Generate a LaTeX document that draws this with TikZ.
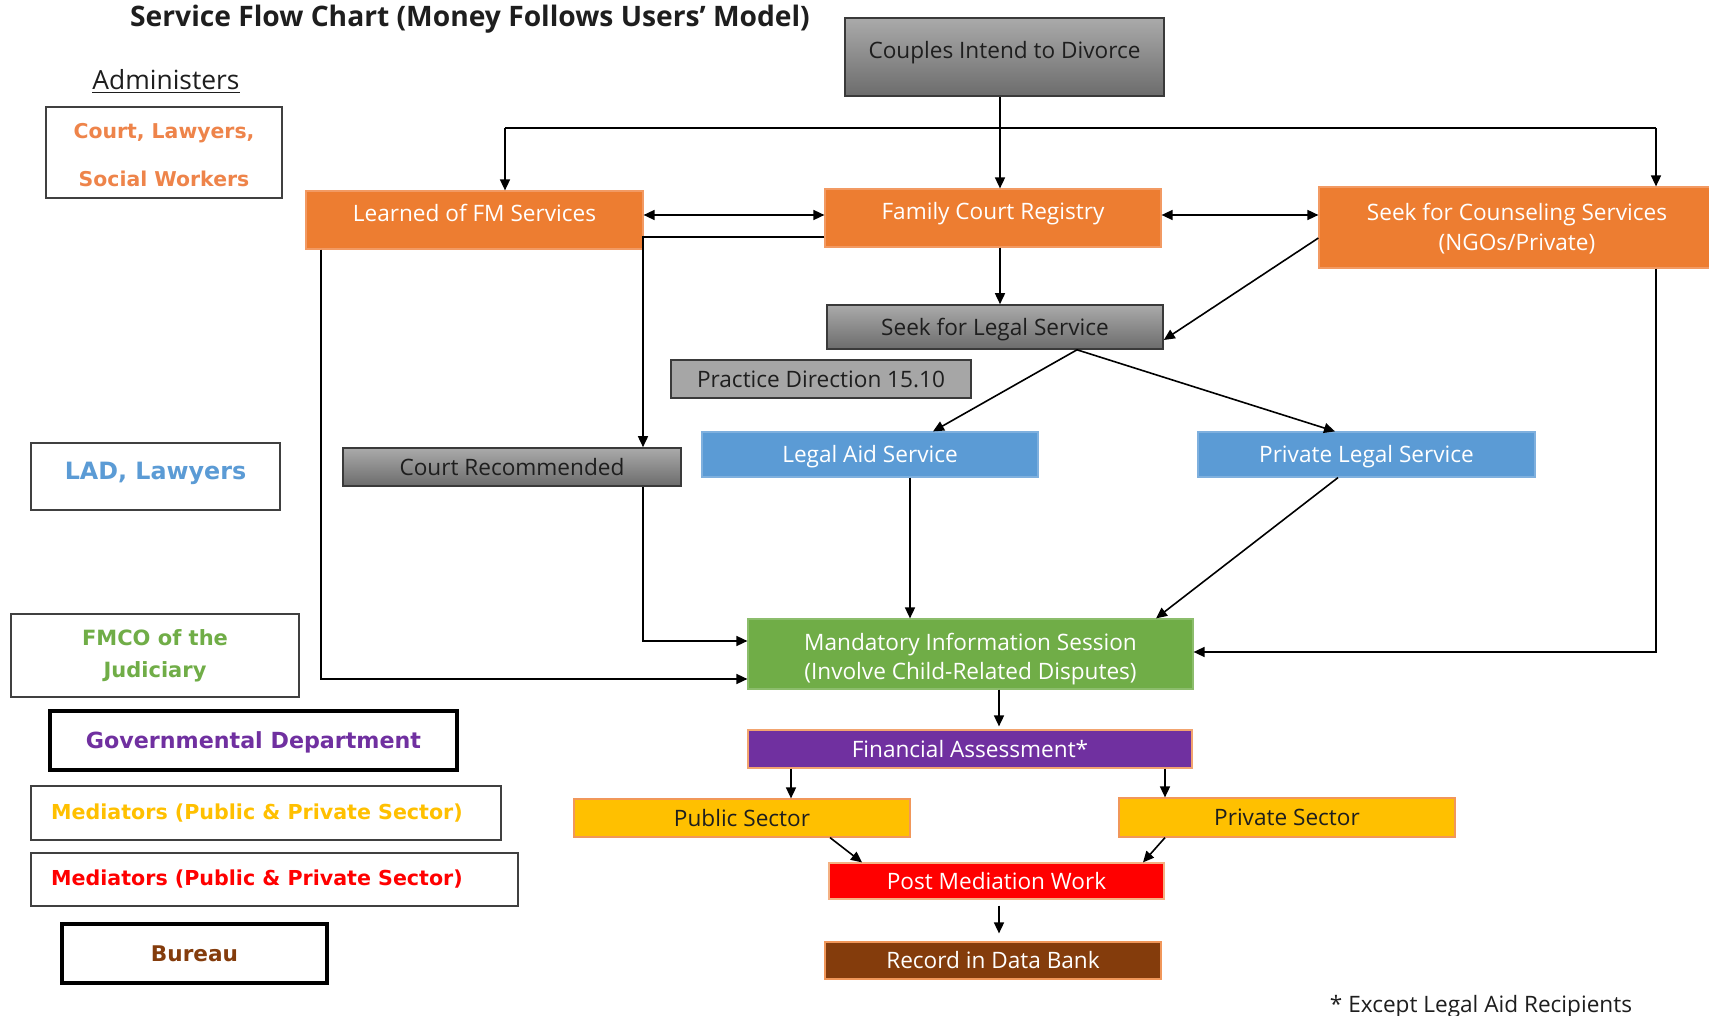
\documentclass[tikz,border=0pt]{standalone}
\usepackage{fontspec}
\setmainfont{Open Sans}
\newfontfamily\legfont{DejaVu Sans}
\usetikzlibrary{arrows.meta}

\definecolor{cOrange}{HTML}{ED7D31}
\definecolor{cOrangeEdge}{HTML}{F29A63}
\definecolor{cBlue}{HTML}{5B9BD5}
\definecolor{cBlueEdge}{HTML}{7FB0DE}
\definecolor{cGreen}{HTML}{70AD47}
\definecolor{cGreenEdge}{HTML}{8CBD6C}
\definecolor{cPurple}{HTML}{7030A0}
\definecolor{cYellow}{HTML}{FFC000}
\definecolor{cRed}{HTML}{FF0000}
\definecolor{cBrown}{HTML}{843C0C}
\definecolor{cLegOrange}{HTML}{EE844A}
\definecolor{gTop}{HTML}{AAAAAA}
\definecolor{gBot}{HTML}{6C6C6C}
\definecolor{gFlat}{HTML}{A6A6A6}
\definecolor{edge}{HTML}{3A3A3A}
\definecolor{legEdge}{HTML}{404040}
\definecolor{ink}{HTML}{1E1E1E}

\begin{document}
\begin{tikzpicture}[x=0.5pt,y=-0.5pt,
  link/.style={draw=black, line width=0.8pt},
  arr/.style={link, -{Triangle[length=5.5pt,width=5pt]}},
  dbl/.style={link, {Triangle[length=5.5pt,width=5pt]}-{Triangle[length=5.5pt,width=5pt]}},
  box/.style={rectangle, inner sep=0pt, align=center, font=\fontsize{11.3}{15}\selectfont},
  one/.style={text height=8.1pt, text depth=0pt},
  high/.style={text height=8.1pt, text depth=7pt},
  orangebox/.style={box, fill=cOrange, draw=cOrangeEdge, line width=0.6pt, text=white},
  greybox/.style={box, top color=gTop, bottom color=gBot, draw=edge, line width=0.8pt, text=ink},
  flatgrey/.style={box, fill=gFlat, draw=edge, line width=0.8pt, text=ink},
  bluebox/.style={box, fill=cBlue, draw=cBlueEdge, line width=0.6pt, text=white},
  greenbox/.style={box, fill=cGreen, draw=cGreenEdge, line width=0.6pt, text=white},
  purplebox/.style={box, fill=cPurple, draw=cOrange!70, line width=0.6pt, text=white},
  yellowbox/.style={box, fill=cYellow, draw=cOrange!80, line width=0.6pt, text=ink},
  redbox/.style={box, fill=cRed, draw=cOrange!60, line width=0.6pt, text=white},
  brownbox/.style={box, fill=cBrown, draw=cOrange!80, line width=0.6pt, text=white},
  legbox/.style={rectangle, inner sep=0pt, align=center, draw=legEdge, line width=0.9pt},
  legthick/.style={legbox, draw=black, line width=2pt},
  legfnt/.style={font=\legfont\bfseries\fontsize{#1}{#1}\selectfont}
]
\useasboundingbox (0,0) rectangle (1709,1016);
\fill[white] (0,0) rectangle (1709,1016);
\clip (0,0) rectangle (1709,1016);

% ---------- headings ----------
\node[one, text height=10pt, font=\bfseries\fontsize{14.1}{16}\selectfont, text=ink]
  (title) at (470,17) {Service Flow Chart (Money Follows Users’ Model)};
\node[text height=9.4pt, text depth=0pt, inner sep=0pt, font=\fontsize{13.2}{15}\selectfont, text=ink]
  (adm) at (166,80) {\underline{Administers}};

% ---------- legend ----------
% (two-line nodes: the text box's baseline is the last line, so the height spans both lines)
\node[legbox, minimum width=118pt, minimum height=45.5pt, text=cLegOrange,
      font=\legfont\bfseries\fontsize{10.2}{24}\selectfont,
      text height=33.8pt, text depth=0pt] (legA) at (164,152.5)
  {Court, Lawyers,\\Social Workers};
\node[legbox, minimum width=124.5pt, minimum height=33.5pt, text=cBlue, legfnt=11.9,
      text height=8.7pt, text depth=5.5pt] (legB) at (155.5,476.5) {LAD, Lawyers};
\node[legbox, minimum width=144pt, minimum height=41.5pt, text=cGreen,
      font=\legfont\bfseries\fontsize{10.5}{16}\selectfont] (legC) at (155,655.5)
  {FMCO of the\\Judiciary};
\node[legthick, minimum width=203.5pt, minimum height=29.5pt, text=cPurple, legfnt=11.1,
      text height=8.1pt, text depth=0pt] (legD) at (253.5,740.5) {Governmental Department};
\node[legbox, minimum width=235pt, minimum height=27pt, text=cYellow, legfnt=10.3,
      text height=7.5pt, text depth=1.5pt] (legE) at (266,813)
  {Mediators (Public \& Private Sector)\hspace*{9pt}};
\node[legbox, minimum width=243.5pt, minimum height=26.5pt, text=cRed, legfnt=10.3,
      text height=7.5pt, text depth=1.5pt] (legF) at (274.5,879.5)
  {Mediators (Public \& Private Sector)\hspace*{17.5pt}};
\node[legthick, minimum width=132.5pt, minimum height=29.5pt, text=cBrown, legfnt=10.8,
      text height=7.9pt, text depth=0pt] (legG) at (194.5,953.5) {Bureau};

% ---------- flow boxes ----------
\node[greybox, high, minimum width=159.5pt, minimum height=39pt] (cpl) at (1004.5,57)
  {Couples Intend to Divorce};
\node[orangebox, high, minimum width=168.5pt, minimum height=29pt] (lfm) at (474.5,220)
  {Learned of FM Services};
\node[orangebox, high, minimum width=168pt, minimum height=29pt] (fcr) at (993,218)
  {Family Court Registry};
\node[orangebox, font=\fontsize{11.3}{15.3}\selectfont, text height=23.4pt, text depth=0pt,
      minimum width=198pt, minimum height=40.5pt] (sco) at (1517,227.5)
  {Seek for Counseling Services\\(NGOs/Private)};
\node[greybox, one, minimum width=168pt, minimum height=22pt] (sls) at (995,327)
  {Seek for Legal Service};
\node[flatgrey, one, minimum width=150pt, minimum height=19pt] (pd) at (821,379)
  {Practice Direction 15.10};
\node[bluebox, one, minimum width=168pt, minimum height=22.5pt] (las) at (870,454.5)
  {Legal Aid Service};
\node[bluebox, one, minimum width=168.5pt, minimum height=22.5pt] (pls) at (1366.5,454.5)
  {Private Legal Service};
\node[greybox, one, minimum width=169pt, minimum height=19pt] (crec) at (512,467)
  {Court Recommended};
\node[greenbox, font=\fontsize{11.3}{14.5}\selectfont, text height=25.8pt, text depth=0pt,
      minimum width=222.5pt, minimum height=35pt] (mis) at (970.5,654)
  {Mandatory Information Session\\(Involve Child-Related Disputes)};
\node[purplebox, one, minimum width=222pt, minimum height=19pt] (fa) at (970,749)
  {Financial Assessment*};
\node[yellowbox, one, minimum width=168pt, minimum height=19pt] (pub) at (742,818)
  {Public Sector};
\node[yellowbox, one, minimum width=168pt, minimum height=19.5pt] (pri) at (1287,817.5)
  {Private Sector};
\node[redbox, one, minimum width=167.5pt, minimum height=18pt] (pmw) at (996.5,881)
  {Post Mediation Work};
\node[brownbox, one, minimum width=168pt, minimum height=18.5pt] (rdb) at (993,960.5)
  {Record in Data Bank};
\node[one, inner sep=0pt, font=\fontsize{11.3}{13}\selectfont, text=ink] (note) at (1481,1004)
  {* Except Legal Aid Recipients};

% ---------- routing points ----------
\coordinate (tl) at (505,128);
\coordinate (tc) at (1000,128);
\coordinate (tr) at (1656,128);
\coordinate (hA) at (0,215);
\coordinate (kA) at (643,237);
\coordinate (hB) at (1319,238);
\coordinate (hC) at (1165,340);
\coordinate (sB) at (1077,0);
\coordinate (laT) at (933,0);
\coordinate (plT) at (1335,0);
\coordinate (laB) at (910,0);
\coordinate (plB) at (1338,0);
\coordinate (miR) at (1156,0);
\coordinate (kB) at (0,641);
\coordinate (kC) at (321,679);
\coordinate (kD) at (1656,652);
\coordinate (vM) at (999,0);
\coordinate (vP) at (791,0);
\coordinate (vQ) at (1165,0);
\coordinate (pbS) at (830,0);
\coordinate (pmL) at (862,0);
\coordinate (pmR) at (1143,0);

% ---------- connectors ----------
\draw[link] (tl) -- (tr);
\draw[arr] (tl) -- (tl |- lfm.north);
\draw[arr] (tr) -- (tr |- sco.north);
\draw[arr] (cpl.south -| tc) -- (fcr.north -| tc);
\draw[dbl] (lfm.east |- hA) -- (fcr.west |- hA);
\draw[dbl] (fcr.east |- hA) -- (sco.west |- hA);
\draw[arr] (fcr.west |- kA) -| (crec.north -| kA);
\draw[arr] (fcr.south -| tc) -- (sls.north -| tc);
\draw[arr] (sco.west |- hB) -- (sls.east |- hC);
\draw[arr] (sls.south -| sB) -- (las.north -| laT);
\draw[arr] (sls.south -| sB) -- (pls.north -| plT);
\draw[arr] (las.south -| laB) -- (mis.north -| laB);
\draw[arr] (pls.south -| plB) -- (mis.north -| miR);
\draw[arr] (crec.south -| kA) |- (mis.west |- kB);
\draw[arr] (lfm.south -| kC) |- (mis.west |- kC);
\draw[arr] (sco.south -| kD) |- (mis.east |- kD);
\draw[arr, shorten >=1.5pt] (mis.south -| vM) -- (fa.north -| vM);
\draw[arr] (fa.south -| vP) -- (pub.north -| vP);
\draw[arr] (fa.south -| vQ) -- (pri.north -| vQ);
\draw[arr] (pub.south -| pbS) -- (pmw.north -| pmL);
\draw[arr] (pri.south -| vQ) -- (pmw.north -| pmR);
\draw[arr, shorten <=3pt, shorten >=4pt] (pmw.south -| vM) -- (rdb.north -| vM);
\end{tikzpicture}
\end{document}
